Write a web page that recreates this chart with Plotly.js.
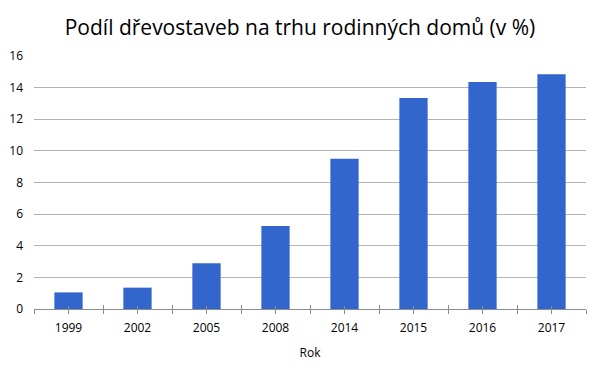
<!DOCTYPE html>
<html>
<head>
<meta charset="utf-8">
<script src="https://cdn.plot.ly/plotly-3.0.1.min.js"></script>
<style>html,body{margin:0;padding:0;background:#fff}#chart{width:600px;height:371px}</style>
</head>
<body>
<div id="chart"></div>
<script>
const categories = ["1999", "2002", "2005", "2008", "2014", "2015", "2016", "2017"];
const values = [1.05, 1.35, 2.9, 5.25, 9.5, 13.35, 14.35, 14.85];
const yTicks = [0, 2, 4, 6, 8, 10, 12, 14, 16];
const titleText = "Podíl dřevostaveb na trhu rodinných domů (v %)";
const xTitle = "Rok";

const font = "'Open Sans', sans-serif";
const tickCol = "#8c8c8c";
const overlay = (ticks, len, on) => ({
  type: "category", overlaying: "x", anchor: "y", matches: "x", layer: "above traces",
  showgrid: false, zeroline: false, showline: false, showticklabels: false,
  ticks: ticks, ticklen: len, tickcolor: tickCol, tickson: on
});
const data = [
  {type: "bar", x: categories, y: values, marker: {color: "#3366CC"}, hoverinfo: "x+y"},
  {type: "bar", x: categories, y: categories.map(() => null), xaxis: "x2", hoverinfo: "skip"},
  {type: "bar", x: categories, y: categories.map(() => null), xaxis: "x3", hoverinfo: "skip"},
  {type: "bar", x: categories, y: categories.map(() => null), xaxis: "x4", hoverinfo: "skip"}
];
const layout = {
  width: 600, height: 371,
  margin: {l: 34, r: 14, t: 56, b: 62},
  paper_bgcolor: "#fff", plot_bgcolor: "#fff",
  showlegend: false,
  barmode: "overlay",
  bargap: 0.59,
  title: {text: titleText, x: 0.5, xanchor: "center", y: 0.925, yanchor: "middle",
          font: {family: font, size: 21, color: "#000"}},
  xaxis: {
    type: "category", showgrid: false, zeroline: false, layer: "above traces",
    showline: true, linecolor: tickCol, linewidth: 1,
    ticks: "outside", ticklen: 4, tickcolor: tickCol, tickson: "boundaries",
    ticklabelstandoff: 8,
    tickfont: {family: font, size: 12, color: "#000"},
    title: {text: xTitle, font: {family: font, size: 12, color: "#000"}, standoff: 13}
  },
  xaxis2: overlay("inside", 4, "boundaries"),
  xaxis3: overlay("outside", 4, "labels"),
  xaxis4: overlay("inside", 3, "labels"),
  yaxis: {
    range: [0, 16], tickvals: yTicks, showline: false, zeroline: false,
    showgrid: true, gridcolor: "#b3b3b3", gridwidth: 1,
    ticks: "", ticklabelstandoff: 10,
    tickfont: {family: font, size: 12, color: "#000"}
  }
};
Plotly.newPlot("chart", data, layout, {displayModeBar: false, staticPlot: true});
</script>
</body>
</html>
